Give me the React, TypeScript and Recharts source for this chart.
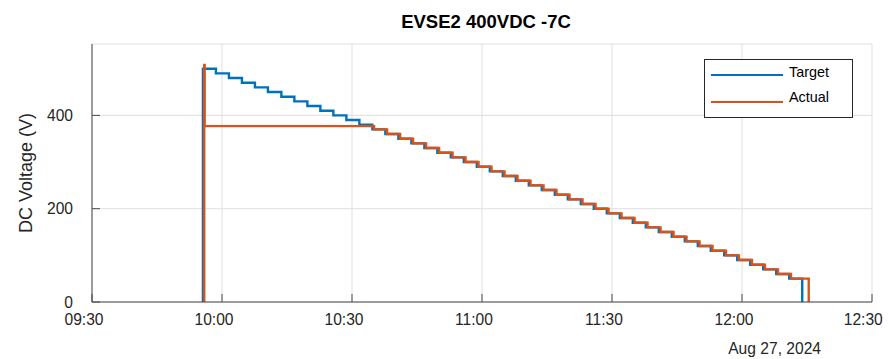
import { CartesianGrid, Legend, Line, LineChart, XAxis, YAxis } from "recharts";

// time is in minutes after 09:30 (Aug 27, 2024)
const targetMinutes = [
  25.5, 25.6, 28.6, 31.6, 34.6, 37.6, 40.6, 43.7, 46.7, 49.7, 52.7, 55.7, 58.7,
  61.7, 64.7, 67.7, 70.7, 73.7, 76.7, 79.7, 82.8, 85.8, 88.8, 91.8, 94.8, 97.8,
  100.8, 103.8, 106.8, 109.8, 112.8, 115.8, 118.8, 121.8, 124.8, 127.8, 130.8,
  133.8, 136.8, 139.8, 142.8, 145.9, 148.9, 151.9, 154.9, 157.9, 160.9, 163.9,
];
const targetVolts = [
  0, 500, 490, 480, 470, 460, 450, 440, 430, 420, 410, 400, 390, 380, 370, 360,
  350, 340, 330, 320, 310, 300, 290, 280, 270, 260, 250, 240, 230, 220, 210, 200,
  190, 180, 170, 160, 150, 140, 130, 120, 110, 100, 90, 80, 70, 60, 50, 0,
];

const actualMinutes = [
  25.8, 25.9, 26.0, 65.1, 68.1, 71.1, 74.1, 77.1, 80.1, 83.2, 86.2, 89.2, 92.2,
  95.2, 98.2, 101.2, 104.2, 107.2, 110.2, 113.2, 116.2, 119.2, 122.2, 125.2,
  128.2, 131.2, 134.2, 137.2, 140.2, 143.2, 146.3, 149.3, 152.3, 155.3, 158.3,
  161.3, 165.4,
];
const actualVolts = [
  0, 508, 377, 370, 360, 350, 340, 330, 320, 310, 300, 290, 280, 270, 260, 250,
  240, 230, 220, 210, 200, 190, 180, 170, 160, 150, 140, 130, 120, 110, 100, 90,
  80, 70, 60, 50, 0,
];

const seriesNames = ["Target", "Actual"];
const timeTicks = [0, 30, 60, 90, 120, 150, 180];
const timeLabels = ["09:30", "10:00", "10:30", "11:00", "11:30", "12:00", "12:30"];
const voltTicks = [0, 200, 400];

const FONT = '"Liberation Sans", Arial, Helvetica, sans-serif';
const AXIS = "#4a4a4a";
const TEXT = "#262626";

const targetData = targetMinutes.map((t, i) => ({ t, v: targetVolts[i] }));
const actualData = actualMinutes.map((t, i) => ({ t, v: actualVolts[i] }));

function LegendBox({ payload }: { payload?: any[] }) {
  const items = [...(payload ?? [])].sort(
    (a, b) => seriesNames.indexOf(a.value) - seriesNames.indexOf(b.value)
  );
  return (
    <div
      style={{
        position: "relative",
        width: 149,
        height: 59,
        boxSizing: "border-box",
        border: "1px solid #262626",
        background: "#fff",
        fontFamily: FONT,
        fontSize: 14.4,
        color: "#000",
      }}
    >
      {items.map((item, i) => (
        <div key={item.value}>
          <div
            style={{
              position: "absolute",
              left: 6,
              top: 14 + i * 26.7,
              width: 72,
              height: 2.4,
              background: item.color,
            }}
          />
          <span
            style={{
              position: "absolute",
              left: 84,
              top: 3.5 + i * 25,
              lineHeight: "16px",
              whiteSpace: "nowrap",
            }}
          >
            {item.value}
          </span>
        </div>
      ))}
    </div>
  );
}

export default function App() {
  return (
    <div
      style={{
        position: "absolute",
        left: 0,
        top: 0,
        width: 889,
        height: 359,
        background: "#fff",
        fontFamily: FONT,
      }}
    >
      <div
        style={{
          position: "absolute",
          left: 92,
          width: 788,
          top: 10.9,
          textAlign: "center",
          fontSize: 18.5,
          lineHeight: "22px",
          fontWeight: "bold",
          color: "#000",
        }}
      >
        EVSE2 400VDC -7C
      </div>
      <LineChart
        width={889}
        height={359}
        margin={{ top: 44, right: 17, bottom: 17, left: 32 }}
      >
        <CartesianGrid stroke="#dfdfdf" />
        <XAxis
          type="number"
          dataKey="t"
          domain={[0, 180]}
          ticks={timeTicks}
          tickFormatter={(v: number) => timeLabels[timeTicks.indexOf(v)] ?? ""}
          height={40}
          tickSize={-8}
          tickMargin={20}
          axisLine={{ stroke: AXIS }}
          tickLine={{ stroke: AXIS }}
          tick={{ fill: TEXT, fontSize: 15.6, dx: -8 }}
          allowDataOverflow
        />
        <YAxis
          type="number"
          domain={[0, 553]}
          ticks={voltTicks}
          width={60}
          tickSize={-8}
          tickMargin={27}
          axisLine={{ stroke: AXIS }}
          tickLine={{ stroke: AXIS }}
          tick={{ fill: TEXT, fontSize: 15.6 }}
          allowDataOverflow
          label={{
            value: "DC Voltage (V)",
            angle: -90,
            position: "center",
            dx: -36,
            fill: TEXT,
            fontSize: 18,
          }}
        />
        <Legend
          layout="horizontal"
          verticalAlign="middle"
          align="center"
          content={(props: any) => <LegendBox payload={props.payload} />}
          wrapperStyle={{ left: 704, top: 59, width: 149, height: 59 }}
        />
        <Line
          data={targetData}
          dataKey="v"
          name="Target"
          type="stepAfter"
          stroke="#0072BD"
          strokeWidth={2.4}
          dot={false}
          isAnimationActive={false}
        />
        <Line
          data={actualData}
          dataKey="v"
          name="Actual"
          type="stepAfter"
          stroke="#D95319"
          strokeWidth={2.4}
          dot={false}
          isAnimationActive={false}
        />
      </LineChart>
      <div
        style={{
          position: "absolute",
          right: 68,
          top: 339.6,
          fontSize: 15.6,
          lineHeight: "18px",
          color: TEXT,
          whiteSpace: "nowrap",
        }}
      >
        Aug 27, 2024
      </div>
    </div>
  );
}
